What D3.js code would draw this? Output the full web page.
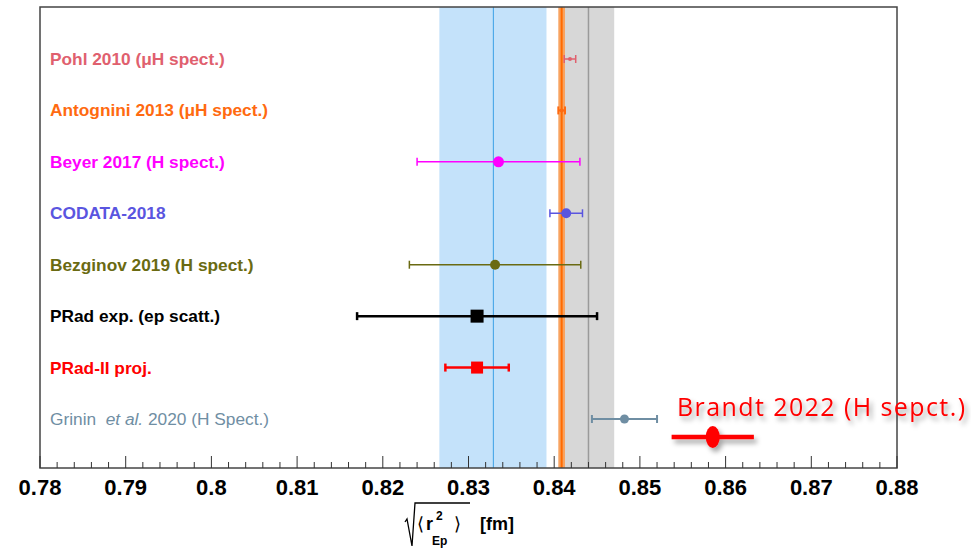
<!DOCTYPE html>
<html>
<head>
<meta charset="utf-8">
<script src="https://cdn.jsdelivr.net/npm/d3@7"></script>
<style>
  body { margin: 0; background: #fff; }
  svg { display: block; font-family: "Liberation Sans", Arial, sans-serif; }
</style>
</head>
<body>
<div id="chart"></div>
<script>
// measurements of the proton charge radius [fm]
var labels = ["Pohl 2010 (\u03bcH spect.)", "Antognini 2013 (\u03bcH spect.)", "Beyer 2017 (H spect.)",
    "CODATA-2018", "Bezginov 2019 (H spect.)", "PRad exp. (ep scatt.)", "PRad-II proj.",
    "Grinin et al. 2020 (H Spect.)"];
var centers = [0.84184, 0.84087, 0.8335, 0.8414, 0.8331, 0.8310, 0.8310, 0.8482];
var errors  = [0.00067, 0.00039, 0.0095, 0.0019, 0.0100, 0.0140, 0.0037, 0.0038];

// bands: [low, centre, high]
var blueBand = [0.8266, 0.8329, 0.8391];
var orangeBand = [0.84048, 0.84087, 0.84126];
var grayBand = [0.8410, 0.8440, 0.8470];

var brandtLabel = "Brandt 2022 (H sepct.)";
var brandtCenter = 0.8585;
var brandtError = 0.0048;

var xDomain = [0.78, 0.88];
var tickValues = [0.78, 0.79, 0.80, 0.81, 0.82, 0.83, 0.84, 0.85, 0.86, 0.87, 0.88];

// drawing styles per row
var styles = [
    {color: "#e0606e", shape: "circle", size: 2, width: 1.5, bold: true},
    {color: "#ff6a10", shape: "circle", size: 2, width: 2, bold: true},
    {color: "#ff00ff", shape: "circle", size: 5.5, width: 1.5, bold: true},
    {color: "#5a55e0", shape: "circle", size: 5, width: 1.5, bold: true},
    {color: "#6a6a12", shape: "circle", size: 5, width: 1.5, bold: true},
    {color: "#000000", shape: "square", size: 13, width: 2.5, bold: true},
    {color: "#ff0000", shape: "square", size: 12, width: 2.5, bold: true},
    {color: "#6f8ea3", shape: "circle", size: 4.5, width: 2, bold: false}
];

var width = 971, height = 549;
var frame = {left: 40, right: 897, top: 7, bottom: 468};

var svg = d3.select("#chart").append("svg")
    .attr("width", width)
    .attr("height", height);

var defs = svg.append("defs");
var shadow = defs.append("filter").attr("id", "shadow")
    .attr("x", "-20%").attr("y", "-50%").attr("width", "140%").attr("height", "200%");
shadow.append("feDropShadow")
    .attr("dx", 3).attr("dy", 4).attr("stdDeviation", 2.5)
    .attr("flood-color", "#000").attr("flood-opacity", 0.35);

var x = d3.scaleLinear().domain(xDomain).range([frame.left, frame.right]);
var y = d3.scaleLinear().domain([0, 7]).range([59, 419]);

// bands
function band(b, fill, lineColor, lineWidth) {
    svg.append("rect")
        .attr("x", x(b[0])).attr("y", frame.top)
        .attr("width", x(b[2]) - x(b[0]))
        .attr("height", frame.bottom - frame.top)
        .attr("fill", fill);
    svg.append("line")
        .attr("x1", x(b[1])).attr("x2", x(b[1]))
        .attr("y1", frame.top).attr("y2", frame.bottom)
        .attr("stroke", lineColor).attr("stroke-width", lineWidth);
}
band(blueBand, "#c4e2fa", "#3aa0e6", 1);
band(grayBand, "#d7d7d7", "#9a9a9a", 1.5);
band(orangeBand, "#f8a360", "#ff6a00", 2);

// frame
svg.append("rect")
    .attr("x", frame.left).attr("y", frame.top)
    .attr("width", frame.right - frame.left)
    .attr("height", frame.bottom - frame.top)
    .attr("fill", "none")
    .attr("stroke", "#444").attr("stroke-width", 1.5);

// axis ticks
var minorTicks = d3.range(0, 51).map(function(i) { return 0.78 + i * 0.002; });
svg.append("g").selectAll("line")
    .data(minorTicks)
    .enter().append("line")
    .attr("x1", function(d) { return x(d); })
    .attr("x2", function(d) { return x(d); })
    .attr("y1", frame.bottom)
    .attr("y2", function(d, i) { return i % 5 === 0 ? frame.bottom - 12 : frame.bottom - 6; })
    .attr("stroke", "#333").attr("stroke-width", 1);

svg.append("g").selectAll("text")
    .data(tickValues)
    .enter().append("text")
    .attr("x", function(d) { return x(d); })
    .attr("y", 495)
    .attr("text-anchor", "middle")
    .style("font-size", "22px")
    .style("font-weight", "bold")
    .text(function(d) { return d3.format("")(+d.toFixed(2)); });

// axis title: sqrt(<r^2_Ep>) [fm]
var title = svg.append("g");
title.append("path")
    .attr("d", "M405,522 L407,519 L412,546 L415,503 L470,503")
    .attr("fill", "none").attr("stroke", "#000").attr("stroke-width", 1.3);
title.append("text").attr("x", 417).attr("y", 530)
    .style("font-size", "18px").text("\u27e8");
title.append("text").attr("x", 426).attr("y", 530)
    .style("font-size", "18px").style("font-weight", "bold").text("r");
title.append("text").attr("x", 436).attr("y", 520)
    .style("font-size", "12px").style("font-weight", "bold").text("2");
title.append("text").attr("x", 432).attr("y", 545)
    .style("font-size", "12px").style("font-weight", "bold").text("Ep");
title.append("text").attr("x", 454).attr("y", 530)
    .style("font-size", "18px").text("\u27e9");
title.append("text").attr("x", 480).attr("y", 530)
    .style("font-size", "18px").style("font-weight", "bold").text("[fm]");

// row labels
var rowLabels = svg.append("g").selectAll("text")
    .data(labels)
    .enter().append("text")
    .attr("x", 50)
    .attr("y", function(d, i) { return y(i) + 6; })
    .attr("fill", function(d, i) { return styles[i].color; })
    .style("font-size", "17.3px")
    .style("font-weight", function(d, i) { return styles[i].bold ? "bold" : "normal"; });

rowLabels.each(function(d, i) {
    var t = d3.select(this);
    if (d.indexOf("et al.") >= 0) {
        var parts = d.split("et al.");
        t.append("tspan").text(parts[0] + "\u00a0");
        t.append("tspan").style("font-style", "italic").text("et al.");
        t.append("tspan").text(parts[1]);
    } else {
        t.text(d);
    }
});

// error bars
var rows = svg.append("g").selectAll("g")
    .data(centers)
    .enter().append("g")
    .attr("transform", function(d, i) { return "translate(0," + y(i) + ")"; });

rows.append("line")
    .attr("x1", function(d, i) { return x(d - errors[i]); })
    .attr("x2", function(d, i) { return x(d + errors[i]); })
    .attr("stroke", function(d, i) { return styles[i].color; })
    .attr("stroke-width", function(d, i) { return styles[i].width; });

[-1, 1].forEach(function(side) {
    rows.append("line")
        .attr("x1", function(d, i) { return x(d + side * errors[i]); })
        .attr("x2", function(d, i) { return x(d + side * errors[i]); })
        .attr("y1", -4).attr("y2", 4)
        .attr("stroke", function(d, i) { return styles[i].color; })
        .attr("stroke-width", function(d, i) { return styles[i].width; });
});

rows.each(function(d, i) {
    var s = styles[i];
    var g = d3.select(this);
    if (s.shape === "square") {
        g.append("rect")
            .attr("x", x(d) - s.size / 2).attr("y", -s.size / 2)
            .attr("width", s.size).attr("height", s.size)
            .attr("fill", s.color);
    } else {
        g.append("circle")
            .attr("cx", x(d)).attr("r", s.size)
            .attr("fill", s.color);
    }
});

// Brandt 2022 annotation
var brandtY = y(7.35);
var brandt = svg.append("g").attr("filter", "url(#shadow)");
brandt.append("line")
    .attr("x1", x(brandtCenter - brandtError))
    .attr("x2", x(brandtCenter + brandtError))
    .attr("y1", brandtY).attr("y2", brandtY)
    .attr("stroke", "#ff0000").attr("stroke-width", 4.5);
brandt.append("ellipse")
    .attr("cx", x(brandtCenter)).attr("cy", brandtY)
    .attr("rx", 7).attr("ry", 11)
    .attr("fill", "#ff0000");
brandt.append("text")
    .attr("x", 677).attr("y", 416)
    .attr("fill", "#ff0000")
    .attr("textLength", 288)
    .style("font-family", "'Open Sans', sans-serif")
    .style("font-size", "25px")
    .text(brandtLabel);
</script>
</body>
</html>
